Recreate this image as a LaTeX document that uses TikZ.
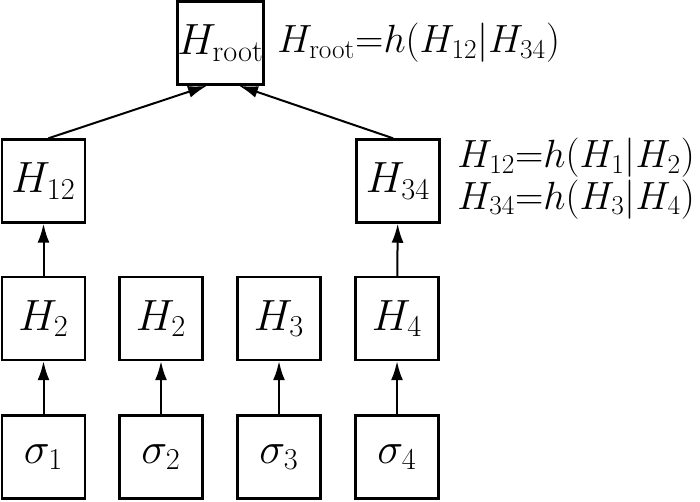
\documentclass[tikz,border=0pt]{standalone}
\usetikzlibrary{arrows.meta}
\newcommand{\heqtext}[1]{\scalebox{0.9}{#1}}
\begin{document}
\begin{tikzpicture}[x=0.02cm,y=0.02cm,
    hbox/.style={draw,line width=0.05cm,minimum width=1.66cm,minimum height=1.66cm,inner sep=0pt},
    harrow/.style={line width=0.04cm,-{Latex[length=0.38cm,width=0.24cm]}},
    heq/.style={anchor=base west,inner sep=0pt}]
                        \useasboundingbox (0,0) rectangle (700,501);
                        {\fontsize{23}{28}\selectfont

                        % Leaves sigma
                        \node [hbox] (s1) at (43.5,44.0) {$\sigma_1$};%
                        \node [hbox] (s2) at (161.0,44.0) {$\sigma_2$};%
                        \node [hbox] (s3) at (279.0,44.0) {$\sigma_3$};%
                        \node [hbox] (s4) at (397.0,44.0) {$\sigma_4$};%

                        % Hashes of leaves
                        \node [hbox] (h1) at (43.5,182.5) {$H_2$};%
                        \node [hbox] (h2) at (161.0,182.5) {$H_2$};%
                        \node [hbox] (h3) at (279.0,182.5) {$H_3$};%
                        \node [hbox] (h4) at (397.0,182.5) {$H_4$};%

                        % Inner hashes
                        \node [hbox] (h12) at (43.5,320.0) {$H_{12}$};%
                        \node [hbox] (h34) at (398.0,320.0) {$H_{34}$};%
                        \node [hbox] (root) at (220.5,458.0) {$H_{\mathrm{root}}$};%

                        % Drawing arrows
                        \draw [harrow] (s1) -- (h1);%
                        \draw [harrow] (s2) -- (h2);%
                        \draw [harrow] (s3) -- (h3);%
                        \draw [harrow] (s4) -- (h4);%
                        \draw [harrow] (h1) -- (h12);%
                        \draw [harrow] (h4) -- (h34);%
                        \draw [harrow] ([xshift=0.1cm]h12.north) -- ([xshift=-0.27cm]root.south);%
                        \draw [harrow] ([xshift=-0.1cm]h34.north) -- ([xshift=0.37cm]root.south);%

                        % Equations
                        \node [heq] (eqroot) at (277.0,448.0) {\heqtext{$H_{\mathrm{root}}{=}h(H_{12}{|}H_{34})$}};%
                        \node [heq] (eq12) at (457.0,333.0) {\heqtext{$H_{12}{=}h(H_1{|}H_2)$}};%
                        \node [heq] (eq34) at (457.0,292.0) {\heqtext{$H_{34}{=}h(H_3{|}H_4)$}};%
                        }
                    \end{tikzpicture}
\end{document}
